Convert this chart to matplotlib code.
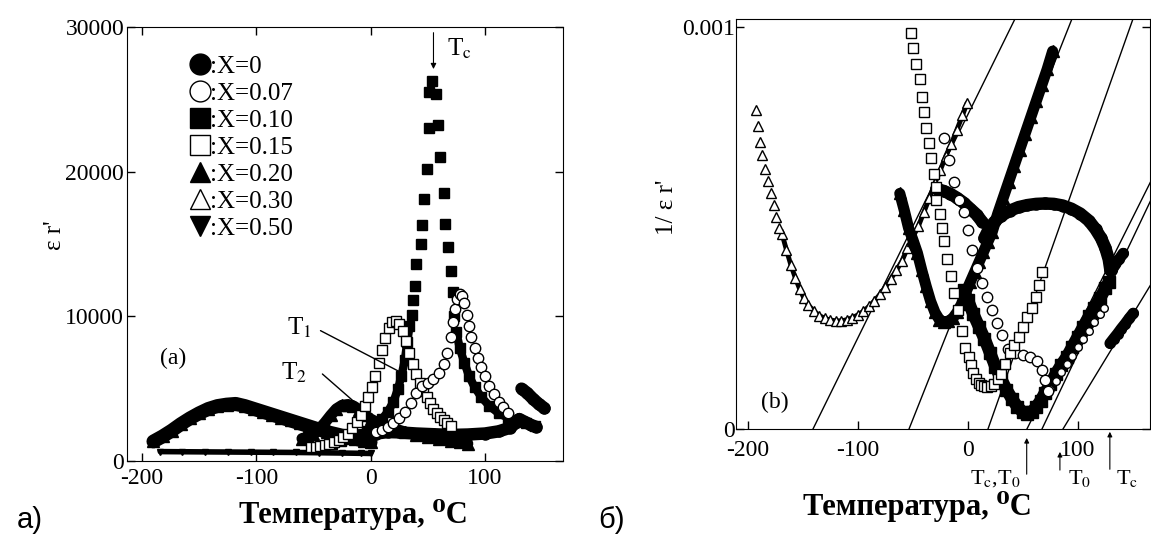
import numpy as np
import matplotlib
matplotlib.use("Agg")
import matplotlib.pyplot as plt
from matplotlib.lines import Line2D

plt.rcParams['font.family'] = ['Liberation Serif', 'DejaVu Serif']
plt.rcParams['mathtext.fontset'] = 'stix'
plt.rcParams['axes.unicode_minus'] = False

# ---------- panel (a): eps' vs temperature ----------
a_t0 = [-25, -15, -5, 5, 15, 25, 40, 55, 70, 85, 100, 112, 122, 128]
a_e0 = [1700, 1750, 1800, 1900, 2000, 1980, 1900, 1850, 1800, 1830, 1900, 2050, 2300, 2700]
a_t0_end = [130, 135, 140, 145]
a_e0_end = [2900, 2700, 2500, 2350]
a_t0_hi = [132, 137, 142, 147, 152]
a_e0_hi = [5000, 4700, 4300, 3950, 3650]

a_t07 = [5, 10, 15, 20, 25, 30, 35, 40, 45, 50, 55, 60, 64, 67, 70, 72, 74, 76, 78, 80,
         82, 84, 86, 88, 91, 94, 97, 100, 104, 108, 112, 116, 120]
a_e07 = [2000, 2150, 2350, 2600, 2950, 3400, 4000, 4700, 5150, 5400, 5650, 6050, 6700, 7500,
         8600, 9600, 10500, 11200, 11550, 11400, 10900, 10100, 9300, 8600, 7800, 7100, 6500,
         5900, 5200, 4600, 4100, 3700, 3300]

a_t10 = [-50, -42, -34, -26, -18, -10, -3, 4, 10, 15, 20, 24, 27, 30, 32, 34, 36, 37, 39, 40,
         44, 45, 47, 49, 51, 51, 54, 57, 59, 61, 64, 65, 68, 70, 72, 73, 75, 78, 82, 86, 91,
         97, 104, 112, 120, 128, 136, 144]
a_e10 = [900, 1050, 1200, 1350, 1550, 1800, 2100, 2450, 2900, 3400, 4100, 5000, 5900, 7000,
         8200, 9300, 10100, 11100, 12100, 13600, 15000, 16300, 18100, 20200, 23000, 25500,
         26300, 25400, 23200, 21000, 18500, 16400, 14800, 13100, 11700, 10000, 8900, 7800,
         6800, 5900, 5100, 4400, 3800, 3300, 3000, 2800, 2600, 2400]

a_t15 = [-52, -48, -44, -40, -36, -32, -28, -24, -20, -16, -12, -8, -5, -2, 1, 4, 7, 10, 13,
         16, 19, 22, 25, 28, 31, 34, 37, 40, 43, 46, 49, 52, 55, 58, 61, 64, 67, 70]
a_e15 = [950, 1000, 1050, 1100, 1200, 1300, 1450, 1650, 1900, 2250, 2700, 3200, 3800, 4400,
         5100, 5900, 6800, 7700, 8500, 9200, 9600, 9700, 9500, 9000, 8300, 7500, 6700, 6000,
         5400, 4850, 4400, 4000, 3600, 3300, 3050, 2800, 2600, 2450]

a_t20 = [-60, -55, -50, -45, -40, -35, -30, -25, -20, -15, -10, -5, 0, 6, 12, 20, 30, 40, 50,
         60, 70, 78, 85]
a_e20 = [1550, 1650, 1850, 2200, 2650, 3150, 3600, 3850, 3900, 3800, 3550, 3200, 2900, 2650,
         2450, 2250, 2000, 1800, 1650, 1500, 1380, 1280, 1200]

a_t30 = [-190, -182, -174, -166, -158, -150, -142, -134, -126, -118, -110, -102, -94, -86,
         -78, -70, -62, -54, -46, -38, -30, -22, -14, -6, 0]
a_e30 = [1350, 1700, 2100, 2550, 2950, 3300, 3600, 3800, 3900, 3950, 3800, 3600, 3400, 3200,
         3000, 2800, 2600, 2400, 2200, 2000, 1850, 1700, 1550, 1400, 1300]

a_t50 = [-184, -165, -145, -125, -105, -85, -65, -45, -25, -8, 0]
a_e50 = [650, 640, 630, 620, 610, 600, 590, 570, 550, 530, 520]

legend_labels = [':X=0', ':X=0.07', ':X=0.10', ':X=0.15', ':X=0.20', ':X=0.30', ':X=0.50']

# ---------- panel (b): 1/eps' vs temperature (units of 1e-4) ----------
b_t0a = [-28, -22, -16, -10, -4, 2, 8, 13]
b_y0a = [5.97, 5.92, 5.85, 5.75, 5.63, 5.48, 5.33, 5.15]
b_t0b = [15, 20, 25, 30, 38, 46, 54, 62, 70, 78, 86, 94, 102, 110, 116, 121, 125, 128, 129.5]
b_y0b = [4.75, 5.03, 5.18, 5.30, 5.43, 5.52, 5.57, 5.60, 5.61, 5.60, 5.56, 5.48, 5.36, 5.18,
         4.97, 4.75, 4.50, 4.22, 3.95]
b_t0c = [130.6, 134, 137.5, 141.2]
b_y0c = [3.96, 4.10, 4.23, 4.37]
b_t0d = [129.1, 132.5, 136, 139.5, 143, 146.5, 150.3]
b_y0d = [2.13, 2.25, 2.37, 2.50, 2.62, 2.75, 2.88]

b_t07 = [-22, -17, -13, -8, -4, 0, 3.5, 8, 12.5, 17, 21.5, 26, 30.5, 36.5, 43, 50, 56.5,
         62.5, 67, 70, 73]
b_y07 = [7.24, 6.70, 6.15, 5.70, 5.40, 4.95, 4.45, 4.00, 3.62, 3.29, 2.96, 2.63, 2.34, 2.00,
         1.88, 1.84, 1.80, 1.68, 1.47, 1.22, 0.95]
b_t07r = [75, 80, 85, 90, 95, 100, 105, 110, 115, 120, 124]
b_y07r = [1.00, 1.20, 1.41, 1.62, 1.82, 2.03, 2.23, 2.44, 2.65, 2.85, 3.02]

b_t10 = [-4, 0, 5, 10, 15, 20, 25, 30, 35, 40, 45, 50, 54, 58, 62, 66, 70, 75, 80, 85, 90,
         95, 100, 105, 110, 115, 120, 125, 128]
b_y10 = [3.45, 3.20, 2.85, 2.55, 2.25, 1.90, 1.55, 1.25, 0.98, 0.75, 0.55, 0.42, 0.38, 0.42,
         0.55, 0.70, 0.90, 1.12, 1.38, 1.60, 1.80, 2.05, 2.30, 2.55, 2.80, 3.02, 3.25, 3.50,
         3.65]

b_t15 = [-51.9, -50.2, -46.9, -43.6, -42.0, -40.4, -38.6, -35.4, -33.7, -30.5, -29.5, -28.7,
         -25.5, -23.8, -22.2, -18.8, -15.5, -12.3, -8.9, -5.6, -2.3, 0.5, 2.6, 5.0, 7.6, 10.0,
         12.0, 14.2, 17.0, 20.8, 24.0, 27.5, 30.0, 34.0, 38.0, 42.0, 46.0, 50.0, 54.0, 58.0,
         62.0, 65.0, 67.1]
b_y15 = [9.86, 9.47, 9.08, 8.70, 8.27, 7.88, 7.50, 7.11, 6.73, 6.34, 6.02, 5.70, 5.35, 5.01,
         4.67, 4.24, 3.81, 3.38, 2.95, 2.44, 2.01, 1.78, 1.58, 1.40, 1.24, 1.15, 1.10, 1.06,
         1.05, 1.06, 1.12, 1.24, 1.38, 1.62, 1.88, 2.08, 2.30, 2.55, 2.78, 3.02, 3.28, 3.58,
         3.90]

b_t20 = [-62, -58, -54, -50, -46, -42, -38, -34, -30, -26, -22, -18, -14, -10, -6, -2, 2, 6,
         10, 14, 18, 22, 27, 32, 37, 42, 47, 52, 57, 62, 67, 72, 77]
b_y20 = [5.86, 5.45, 5.00, 4.70, 4.38, 3.95, 3.55, 3.18, 2.90, 2.72, 2.66, 2.68, 2.75, 2.90,
         3.10, 3.40, 3.65, 3.90, 4.15, 4.40, 4.65, 4.90, 5.35, 5.75, 6.15, 6.55, 6.95, 7.35,
         7.75, 8.15, 8.55, 8.95, 9.40]

b_t30s = [-192.4, -190.7, -189.1, -187.5, -184.1, -181.5, -179.2, -176.8, -174.2, -171.5]
b_y30s = [7.93, 7.54, 7.15, 6.81, 6.47, 6.17, 5.87, 5.57, 5.27, 5.01]
b_t30 = [-169, -165, -161, -157, -153, -149, -145, -140, -135, -130, -125, -120, -115, -110,
         -105, -100, -95, -90, -85, -80, -75, -70, -65, -60, -55, -50, -45, -40, -35, -30,
         -25, -20, -15, -10, -5, -1]
b_y30 = [4.85, 4.45, 4.08, 3.76, 3.48, 3.25, 3.08, 2.93, 2.82, 2.75, 2.71, 2.69, 2.69, 2.72,
         2.77, 2.84, 2.93, 3.05, 3.19, 3.35, 3.53, 3.74, 3.95, 4.18, 4.50, 4.78, 5.05, 5.40,
         5.75, 6.12, 6.45, 6.80, 7.10, 7.45, 7.80, 8.10]

# Curie-Weiss fit lines: start on the T axis, end at the frame
cw_x0 = [-140.9, -53.6, 18.2, 53.6, 67.3, 86.4]
cw_x1 = [42.7, 94.5, 150.0, 166.4, 166.4, 166.4]
cw_y1 = [10.2, 10.2, 10.2, 6.17, 5.70, 3.60]

arrow_T = [53.4, 83.6, 129.0]

SC = 1e-4


def scaled(v):
    return np.array(v) * SC


def band(ax, t, v, marker, lw, ms, filled=True, mew=1.0, z=2):
    ax.plot(t, v, '-', color='k', lw=lw, solid_capstyle='round',
            solid_joinstyle='round', zorder=z)
    ax.plot(t, v, marker, ls='none', ms=ms, mfc='k' if filled else 'white',
            mec='k', mew=mew, zorder=z)


def pts(ax, t, v, marker, ms, filled=False, mew=1.0, z=3):
    ax.plot(t, v, marker, ls='none', ms=ms, mfc='k' if filled else 'white',
            mec='k', mew=mew, zorder=z)


W, H = 1151, 540
fig = plt.figure(figsize=(W / 100, H / 100), dpi=100)


def px_axes(l, t, r, b):
    return fig.add_axes([l / W, 1 - b / H, (r - l) / W, (b - t) / H])


axa = px_axes(127, 27, 563, 461)
axb = px_axes(736, 19, 1150, 429)

# ---------------- panel (a) ----------------
band(axa, a_t50, a_e50, 'v', 4, 5)
band(axa, a_t30, a_e30, '^', 10, 9)
band(axa, a_t0, a_e0, 'o', 9, 8)
band(axa, a_t0_end, a_e0_end, 'o', 9, 8)
band(axa, a_t0_hi, a_e0_hi, 'o', 9, 8)
band(axa, a_t20, a_e20, '^', 8, 8)
t10 = np.array(a_t10)
e10 = np.array(a_e10)
low_left = (e10 < 10000) & (np.arange(len(t10)) < 17)
low_right = (e10 < 10000) & (np.arange(len(t10)) > 17)
axa.plot(t10[low_left], e10[low_left], '-', color='k', lw=6, solid_capstyle='round', zorder=2)
axa.plot(t10[low_right], e10[low_right], '-', color='k', lw=6, solid_capstyle='round', zorder=2)
pts(axa, a_t10, a_e10, 's', 6.5, filled=True, z=2)
pts(axa, a_t15, a_e15, 's', 7, z=3)
pts(axa, a_t07, a_e07, 'o', 7.5, z=3)

axa.set_xlim(-213.1, 168.3)
axa.set_ylim(0, 30000)
axa.set_xticks([-200, -100, 0, 100])
axa.set_yticks([0, 10000, 20000, 30000])
axa.tick_params(direction='in', top=True, right=True, length=6, width=1,
                labelsize=17)
axa.tick_params(axis='x', pad=5)
axa.tick_params(axis='y', pad=2)

handles = [
    Line2D([], [], marker='o', ls='none', ms=15, mfc='k', mec='k'),
    Line2D([], [], marker='o', ls='none', ms=15, mfc='white', mec='k'),
    Line2D([], [], marker='s', ls='none', ms=14, mfc='k', mec='k'),
    Line2D([], [], marker='s', ls='none', ms=14, mfc='white', mec='k'),
    Line2D([], [], marker='^', ls='none', ms=15, mfc='k', mec='k'),
    Line2D([], [], marker='^', ls='none', ms=15, mfc='white', mec='k'),
    Line2D([], [], marker='v', ls='none', ms=15, mfc='k', mec='k'),
]
axa.legend(handles, legend_labels, loc='upper left', bbox_to_anchor=(0.115, 0.963),
           frameon=False, fontsize=18, handlelength=0.8, handletextpad=0.0,
           labelspacing=0.18, borderpad=0)

axa.annotate('', xy=(55, 26900), xytext=(55, 29800),
             arrowprops=dict(arrowstyle='-|>', lw=0.8, color='k', mutation_scale=8))
axa.text(67, 28500, r'T$_\mathrm{c}$', fontsize=18, va='center', ha='left')
axa.annotate('', xy=(32, 5900), xytext=(-46, 9100),
             arrowprops=dict(arrowstyle='-', lw=1, color='k'))
axa.text(-62, 9200, r'T$_\mathrm{1}$', fontsize=18, va='center', ha='center')
axa.annotate('', xy=(-12, 3930), xytext=(-44, 6140),
             arrowprops=dict(arrowstyle='-', lw=1, color='k'))
axa.text(-67, 6100, r'T$_\mathrm{2}$', fontsize=18, va='center', ha='center')
axa.text(-173, 7100, '(a)', fontsize=17, va='center', ha='center')

# ---------------- panel (b) ----------------
for x0, x1, y1 in zip(cw_x0, cw_x1, cw_y1):
    axb.plot([x0, x1], [0, y1 * SC], '-', color='k', lw=1.0, zorder=1)

band(axb, b_t30, scaled(b_y30), '^', 3.5, 6.5, filled=False, mew=1.0)
pts(axb, b_t30s, scaled(b_y30s), '^', 6.5)
band(axb, b_t20, scaled(b_y20), '^', 8, 8)
band(axb, b_t0a, scaled(b_y0a), 'o', 9, 8)
band(axb, b_t0b, scaled(b_y0b), 'o', 9, 8)
band(axb, b_t0c, scaled(b_y0c), 'o', 8, 7)
band(axb, b_t0d, scaled(b_y0d), 'o', 8, 7)
band(axb, b_t10, scaled(b_y10), 's', 9, 8)
band(axb, b_t07r, scaled(b_y07r), 'o', 3, 5.5, filled=False)
pts(axb, b_t07, scaled(b_y07), 'o', 7.5)
pts(axb, b_t15, scaled(b_y15), 's', 7)

axb.set_xlim(-210.9, 165.5)
axb.set_ylim(0, 10.2 * SC)
axb.set_xticks([-200, -100, 0, 100])
axb.set_yticks([0, 0.001])
axb.set_yticklabels(['0', '0.001'])
axb.tick_params(direction='in', top=False, right=True, length=6, width=1,
                labelsize=17)
axb.tick_params(axis='x', pad=8)
axb.tick_params(axis='y', pad=1)
axb.text(-175.5, 0.65 * SC, '(b)', fontsize=17, va='center', ha='center')

xt = axb.get_xaxis_transform()
arrow_y0 = [-0.117, -0.107, -0.105]
arrow_y1 = [-0.015, -0.049, 0.0]
for x, y0, y1 in zip(arrow_T, arrow_y0, arrow_y1):
    axb.annotate('', xy=(x, y1), xycoords=xt, xytext=(x, y0), textcoords=xt,
                 arrowprops=dict(arrowstyle='-|>', lw=0.8, color='k', mutation_scale=7))
axb.text(48, -0.12, r'T$_\mathrm{c}$,T$_\mathrm{0}$', transform=xt, fontsize=16,
         ha='right', va='center')
axb.text(91, -0.12, r'T$_\mathrm{0}$', transform=xt, fontsize=16, ha='left', va='center')
axb.text(135, -0.12, r'T$_\mathrm{c}$', transform=xt, fontsize=16, ha='left', va='center')

# ---------------- labels ----------------
fig.text(353 / W, 1 - 514 / H, 'Температура, ⁰C', fontsize=22, fontweight='bold',
         ha='center', va='center')
fig.text(917 / W, 1 - 506 / H, 'Температура, ⁰C', fontsize=22, fontweight='bold',
         ha='center', va='center')
fig.text(55 / W, 1 - 235 / H, "ε r'", fontsize=18, rotation=90, ha='center', va='center')
fig.text(667 / W, 1 - 207 / H, "1/ ε r'", fontsize=18, rotation=90, ha='center', va='center')
fig.text(30 / W, 1 - 520 / H, 'a)', fontsize=21, family='Liberation Sans',
         ha='center', va='center')
fig.text(612 / W, 1 - 520 / H, 'б)', fontsize=21, family='Liberation Sans',
         ha='center', va='center')

fig.savefig('out.png', dpi=100)
